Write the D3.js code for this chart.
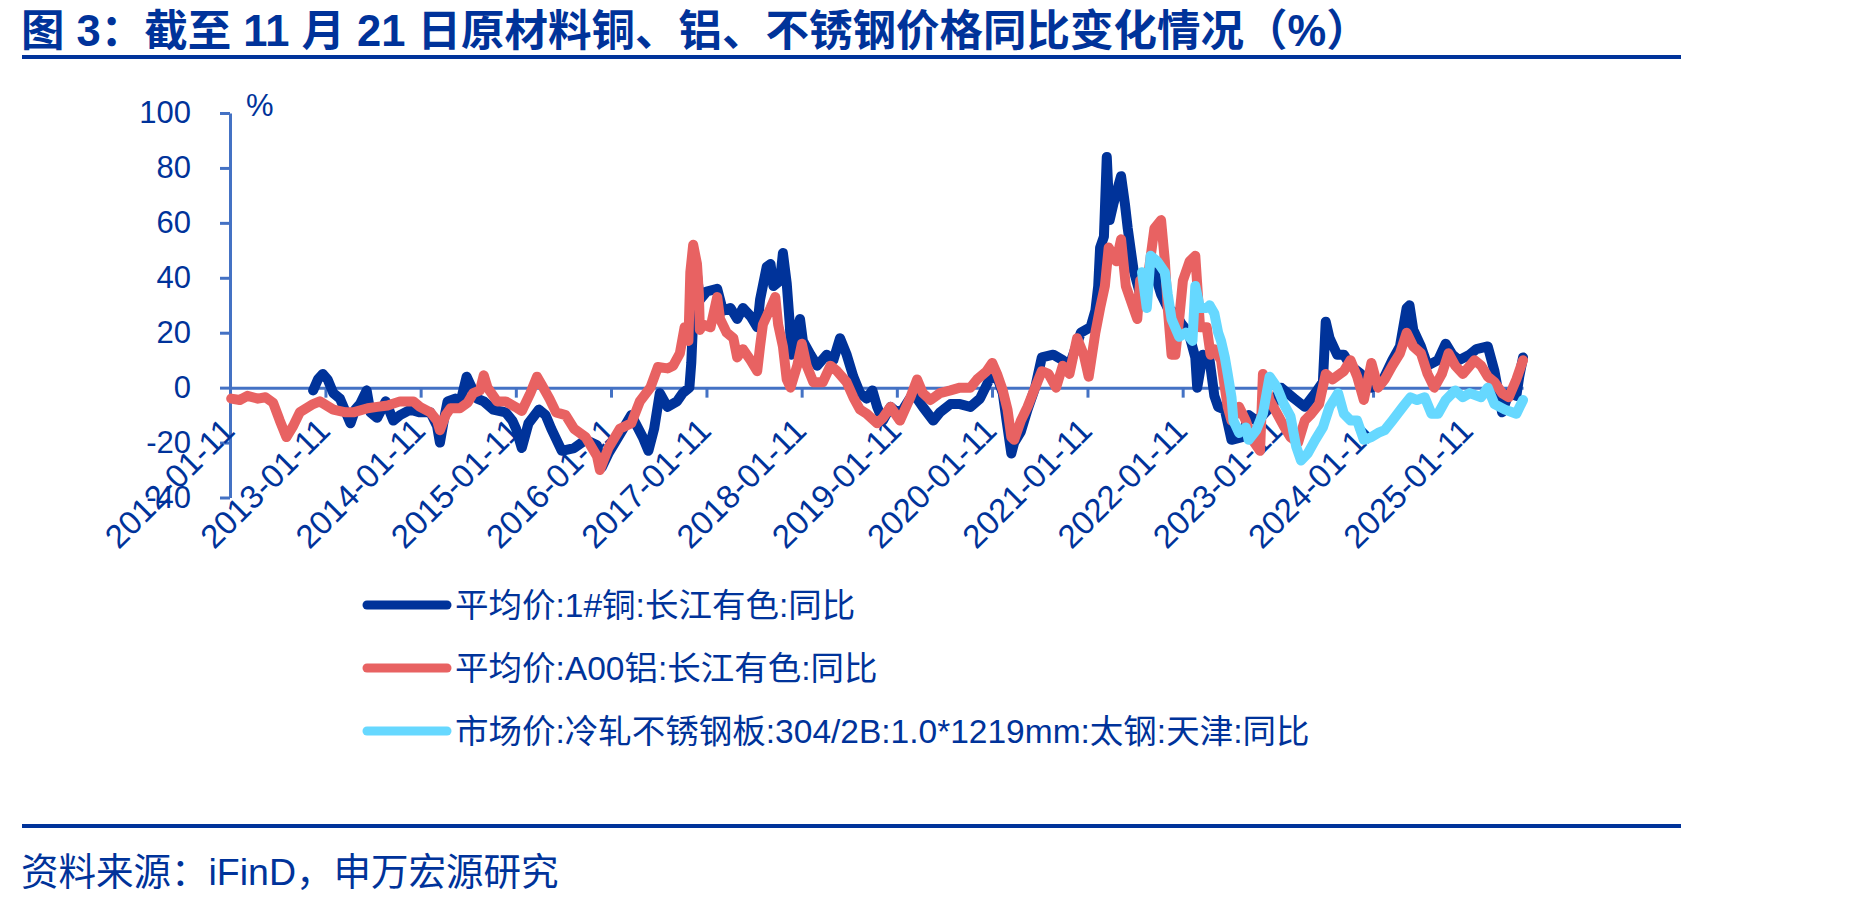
<!DOCTYPE html>
<html>
<head>
<meta charset="utf-8">
<script src="https://cdn.jsdelivr.net/npm/d3@7"></script>
<style>
  body { margin: 0; background: #fff; }
  svg { display: block; }
</style>
</head>
<body>
<svg id="chart" width="1849" height="902"></svg>
<script>
var titleText = '图 3：截至 11 月 21 日原材料铜、铝、不锈钢价格同比变化情况（%）';
var sourceText = '资料来源：iFinD，申万宏源研究';
var seriesNames = [
    '平均价:1#铜:长江有色:同比',
    '平均价:A00铝:长江有色:同比',
    '市场价:冷轧不锈钢板:304/2B:1.0*1219mm:太钢:天津:同比'
];
var seriesColors = ['#00339a', '#e86262', '#66d8ff'];
var yTicks = [-40, -20, 0, 20, 40, 60, 80, 100];
var xTickLabels = ['2012-01-11', '2013-01-11', '2014-01-11', '2015-01-11', '2016-01-11',
    '2017-01-11', '2018-01-11', '2019-01-11', '2020-01-11', '2021-01-11', '2022-01-11',
    '2023-01-11', '2024-01-11', '2025-01-11'];
var xStart = '2012-01-11', xEnd = '2025-08-08';

// [decimal year, % yoy]
var copper = [
    [2012.90, -1], [2012.95, 3], [2013.00, 5], [2013.05, 3], [2013.11, -2], [2013.18, -4], [2013.29, -13],
    [2013.34, -8], [2013.39, -6], [2013.46, -1], [2013.50, -9], [2013.57, -11], [2013.66, -5], [2013.74, -12],
    [2013.81, -10], [2013.92, -8], [2014.02, -9], [2014.13, -9], [2014.20, -14], [2014.23, -20], [2014.27, -12],
    [2014.31, -5], [2014.39, -4], [2014.44, -6], [2014.51, 4], [2014.55, 1], [2014.62, -4], [2014.69, -5],
    [2014.79, -8], [2014.92, -9], [2014.99, -12], [2015.03, -15], [2015.09, -22], [2015.16, -13], [2015.27, -8],
    [2015.34, -10], [2015.40, -15], [2015.51, -23], [2015.64, -22], [2015.76, -19], [2015.88, -21], [2015.93, -29],
    [2016.00, -24], [2016.12, -17], [2016.24, -10], [2016.36, -18], [2016.42, -23], [2016.48, -15], [2016.54, -2],
    [2016.62, -7], [2016.72, -5], [2016.78, -2], [2016.85, 0], [2016.87, 9], [2016.89, 25], [2016.92, 44],
    [2016.96, 32], [2017.03, 35], [2017.14, 36], [2017.20, 28], [2017.28, 29], [2017.35, 25], [2017.41, 29],
    [2017.49, 26], [2017.56, 22], [2017.59, 32], [2017.66, 44], [2017.70, 45], [2017.73, 37], [2017.80, 39],
    [2017.83, 49], [2017.87, 38], [2017.90, 24], [2017.92, 12], [2017.98, 21], [2018.01, 25], [2018.04, 17],
    [2018.12, 12], [2018.19, 8], [2018.29, 12], [2018.36, 10], [2018.43, 18], [2018.50, 12], [2018.57, 4],
    [2018.64, -2], [2018.71, -4], [2018.77, -1], [2018.82, -7], [2018.88, -12], [2018.96, -7], [2019.03, -9],
    [2019.09, -8], [2019.20, -2], [2019.30, -7], [2019.41, -12], [2019.48, -9], [2019.59, -6], [2019.69, -6],
    [2019.80, -7], [2019.90, -4], [2020.00, 3], [2020.08, 4], [2020.14, -2], [2020.18, -12], [2020.23, -24],
    [2020.26, -20], [2020.33, -16], [2020.40, -8], [2020.48, 0], [2020.55, 11], [2020.67, 12], [2020.77, 10],
    [2020.84, 8], [2020.96, 20], [2021.06, 22], [2021.11, 28], [2021.14, 37], [2021.16, 51], [2021.20, 55],
    [2021.23, 84], [2021.26, 61], [2021.30, 67], [2021.38, 77], [2021.42, 67], [2021.45, 58], [2021.51, 43],
    [2021.58, 34], [2021.65, 39], [2021.73, 42], [2021.80, 34], [2021.87, 29], [2021.95, 27], [2022.02, 23],
    [2022.09, 20], [2022.16, 11], [2022.18, 0], [2022.24, 12], [2022.31, 10], [2022.36, -3], [2022.40, -7],
    [2022.47, -8], [2022.54, -19], [2022.65, -18], [2022.72, -10], [2022.80, -12], [2022.87, -10], [2022.98, -6],
    [2023.06, 0], [2023.13, -2], [2023.20, -4], [2023.31, -7], [2023.42, -2], [2023.50, 2], [2023.53, 24],
    [2023.57, 18], [2023.65, 12], [2023.72, 12], [2023.79, 8], [2023.90, 5], [2024.01, 0], [2024.12, 2],
    [2024.23, 10], [2024.31, 15], [2024.38, 29], [2024.41, 30], [2024.45, 21], [2024.53, 15], [2024.60, 8],
    [2024.71, 10], [2024.79, 16], [2024.86, 12], [2024.93, 10], [2025.04, 12], [2025.11, 14], [2025.23, 15],
    [2025.30, 6], [2025.38, -9], [2025.45, -2], [2025.53, -3], [2025.56, 4], [2025.60, 11]
];
var aluminium = [
    [2012.04, -4], [2012.13, -4.5], [2012.21, -3], [2012.32, -4], [2012.40, -3.5], [2012.48, -5.5], [2012.55, -12],
    [2012.62, -18], [2012.69, -14], [2012.76, -9], [2012.90, -6], [2012.97, -5], [2013.11, -8], [2013.24, -9],
    [2013.32, -9], [2013.47, -7.5], [2013.57, -7], [2013.68, -6.5], [2013.81, -5], [2013.95, -5], [2014.02, -7],
    [2014.13, -9], [2014.20, -12], [2014.23, -15.5], [2014.29, -10], [2014.34, -7.5], [2014.44, -7.5],
    [2014.52, -5.5], [2014.58, -2], [2014.65, -1], [2014.69, 4.5], [2014.73, 0], [2014.83, -5], [2014.92, -5],
    [2015.02, -7], [2015.09, -8.5], [2015.18, -2], [2015.25, 4], [2015.30, 1], [2015.38, -4], [2015.45, -9],
    [2015.55, -10], [2015.64, -15], [2015.76, -18], [2015.88, -25], [2015.91, -30], [2016.00, -22], [2016.12, -15],
    [2016.24, -13], [2016.33, -5], [2016.44, 0], [2016.52, 7.5], [2016.62, 7], [2016.68, 8], [2016.75, 12.5],
    [2016.80, 22], [2016.84, 17], [2016.86, 42], [2016.89, 52], [2016.93, 45], [2016.95, 34], [2016.96, 21],
    [2016.99, 23], [2017.07, 22], [2017.14, 33], [2017.17, 25], [2017.24, 20], [2017.31, 18], [2017.35, 11],
    [2017.41, 14], [2017.49, 10], [2017.56, 6], [2017.59, 15], [2017.62, 23], [2017.70, 29], [2017.75, 33],
    [2017.78, 23], [2017.83, 15], [2017.87, 3], [2017.91, 0], [2017.98, 8], [2018.03, 16], [2018.08, 8],
    [2018.15, 2], [2018.25, 2], [2018.33, 8], [2018.40, 6], [2018.50, 2], [2018.57, -3.5], [2018.64, -8],
    [2018.71, -9.5], [2018.82, -13], [2018.88, -11], [2018.96, -7], [2019.06, -12], [2019.17, -3.5], [2019.24, 3],
    [2019.30, -2], [2019.38, -4.5], [2019.48, -2], [2019.59, -1], [2019.69, 0], [2019.80, 0], [2019.87, 3],
    [2019.97, 6], [2020.03, 9], [2020.08, 5], [2020.11, 2], [2020.14, -1], [2020.19, -8], [2020.23, -18],
    [2020.26, -19], [2020.33, -12], [2020.40, -7], [2020.48, 0], [2020.55, 6], [2020.62, 5], [2020.70, 0],
    [2020.77, 8], [2020.84, 5], [2020.92, 18], [2020.99, 12], [2021.04, 4], [2021.11, 20], [2021.16, 29],
    [2021.21, 37], [2021.25, 51], [2021.33, 46], [2021.38, 54], [2021.43, 37], [2021.51, 29], [2021.55, 25],
    [2021.58, 39], [2021.65, 37], [2021.73, 58], [2021.80, 61], [2021.84, 46], [2021.87, 29], [2021.91, 12],
    [2021.95, 12], [2021.99, 25], [2022.03, 39], [2022.10, 46], [2022.16, 48], [2022.21, 22], [2022.28, 22],
    [2022.32, 12], [2022.36, 14], [2022.43, 10], [2022.47, 0], [2022.50, -7], [2022.54, -12], [2022.62, -7],
    [2022.69, -12], [2022.76, -19], [2022.84, -23], [2022.87, 5], [2022.94, -4.5], [2023.02, -9.5], [2023.09, -14],
    [2023.16, -18], [2023.24, -20], [2023.31, -12], [2023.38, -9.5], [2023.46, -6], [2023.53, 5], [2023.60, 3],
    [2023.72, 6], [2023.79, 10], [2023.86, 4], [2023.93, -4.5], [2024.01, 9], [2024.08, 0], [2024.15, 3],
    [2024.23, 8], [2024.31, 12.5], [2024.38, 20], [2024.45, 15], [2024.53, 12.5], [2024.60, 5], [2024.67, 0],
    [2024.75, 5], [2024.82, 12.5], [2024.89, 8], [2024.97, 5], [2025.09, 10], [2025.16, 8], [2025.23, 4],
    [2025.30, 2], [2025.38, -2], [2025.45, -3.5], [2025.53, 3], [2025.60, 10]
];
var stainless = [
    [2021.60, 42], [2021.65, 29], [2021.69, 48], [2021.76, 46], [2021.84, 42], [2021.87, 34], [2021.91, 25],
    [2021.99, 18.5], [2022.06, 20], [2022.13, 17], [2022.16, 37], [2022.21, 29], [2022.28, 29], [2022.31, 30],
    [2022.36, 27], [2022.40, 20], [2022.43, 17], [2022.47, 11], [2022.50, 5], [2022.54, -3.5], [2022.56, -12],
    [2022.62, -16.5], [2022.69, -14.5], [2022.72, -19], [2022.80, -15.5], [2022.87, -9.5], [2022.94, 4],
    [2023.02, 0], [2023.09, -6], [2023.16, -10.5], [2023.22, -21.5], [2023.27, -26.5], [2023.34, -24],
    [2023.42, -19], [2023.50, -14.5], [2023.57, -7], [2023.66, -2], [2023.72, -9.5], [2023.79, -12],
    [2023.86, -12], [2023.93, -19], [2024.01, -18], [2024.08, -16.5], [2024.15, -15.5], [2024.23, -12],
    [2024.34, -7], [2024.42, -3.5], [2024.49, -4.5], [2024.57, -3.5], [2024.64, -9.5], [2024.71, -9.5],
    [2024.79, -4.5], [2024.89, -1], [2024.97, -3.5], [2025.04, -2], [2025.16, -3.5], [2025.23, 0],
    [2025.30, -6], [2025.41, -8], [2025.53, -9.5], [2025.60, -4.5]
];
var seriesData = [copper, aluminium, stainless];

var navy = '#00339a';
var axisColor = '#4472c4';
var svg = d3.select('#chart');
var parseDate = d3.timeParse('%Y-%m-%d');

function yearToDate(y) {
    var yr = Math.floor(y);
    var start = Date.UTC(yr, 0, 1);
    return new Date(start + (y - yr) * 365.25 * 864e5);
}

// scales
var x = d3.scaleTime()
    .domain([parseDate(xStart), parseDate(xEnd)])
    .range([230, 1523]);
var y = d3.scaleLinear()
    .domain([-40, 100])
    .range([497.5, 113]);

// title and rules
svg.append('text')
    .attr('x', 21)
    .attr('y', 46)
    .attr('font-family', '"Liberation Sans", "Noto Sans CJK SC", sans-serif')
    .attr('font-size', 43.5)
    .attr('font-weight', 'bold')
    .attr('fill', navy)
    .text(titleText);

svg.append('rect').attr('x', 22).attr('y', 55).attr('width', 1659).attr('height', 4).attr('fill', navy);
svg.append('rect').attr('x', 22).attr('y', 824).attr('width', 1659).attr('height', 4).attr('fill', navy);

svg.append('text')
    .attr('x', 21)
    .attr('y', 885)
    .attr('font-family', '"Liberation Sans", "Noto Sans CJK SC", sans-serif')
    .attr('font-size', 37.5)
    .attr('fill', navy)
    .text(sourceText);

// axes (plain hyphen for negatives, as in the source)
var yAxis = d3.axisLeft(y)
    .tickValues(yTicks)
    .tickFormat(function(d) { return String(d); })
    .tickSize(10)
    .tickSizeOuter(0)
    .tickPadding(29);
var yAxisG = svg.append('g')
    .attr('transform', 'translate(230,0)')
    .call(yAxis);

var xAxis = d3.axisBottom(x)
    .tickValues(xTickLabels.map(parseDate))
    .tickFormat(d3.timeFormat('%Y-%m-%d'))
    .tickSize(10)
    .tickSizeOuter(0);
var xAxisG = svg.append('g')
    .attr('transform', 'translate(0,' + y(0) + ')')
    .call(xAxis);

[yAxisG, xAxisG].forEach(function(g) {
    g.select('.domain').attr('stroke', axisColor).attr('stroke-width', 3);
    g.selectAll('.tick line').attr('stroke', axisColor).attr('stroke-width', 3);
    g.selectAll('.tick text')
        .attr('fill', navy)
        .attr('font-size', 31)
        .attr('font-family', '"Liberation Sans", Arial, sans-serif');
});

xAxisG.selectAll('.tick text')
    .attr('x', 0)
    .attr('y', 0)
    .attr('dy', 0)
    .attr('font-size', 33)
    .attr('text-anchor', 'end')
    .attr('transform', 'translate(6,45) rotate(-45)');

svg.append('text')
    .attr('x', 246)
    .attr('y', 116)
    .attr('font-family', '"Liberation Sans", Arial, sans-serif')
    .attr('font-size', 31)
    .attr('fill', navy)
    .text('%');

// series lines
var line = d3.line()
    .x(function(d) { return x(yearToDate(d[0])); })
    .y(function(d) { return y(d[1]); });

svg.append('g').selectAll('path')
    .data(seriesData)
    .enter()
    .append('path')
    .attr('d', line)
    .attr('fill', 'none')
    .attr('stroke', function(d, i) { return seriesColors[i]; })
    .attr('stroke-width', 10)
    .attr('stroke-linejoin', 'round')
    .attr('stroke-linecap', 'round');

// legend
var legend = svg.append('g').selectAll('g')
    .data(seriesNames)
    .enter()
    .append('g')
    .attr('transform', function(d, i) { return 'translate(0,' + (605 + i * 63) + ')'; });

legend.append('line')
    .attr('x1', 367).attr('x2', 447)
    .attr('y1', 0).attr('y2', 0)
    .attr('stroke', function(d, i) { return seriesColors[i]; })
    .attr('stroke-width', 9)
    .attr('stroke-linecap', 'round');

legend.append('text')
    .attr('x', 455)
    .attr('y', 0)
    .attr('dy', '0.36em')
    .attr('font-family', '"Liberation Sans", "Noto Sans CJK SC", sans-serif')
    .attr('font-size', 33.5)
    .attr('fill', navy)
    .text(function(d) { return d; });
</script>
</body>
</html>
